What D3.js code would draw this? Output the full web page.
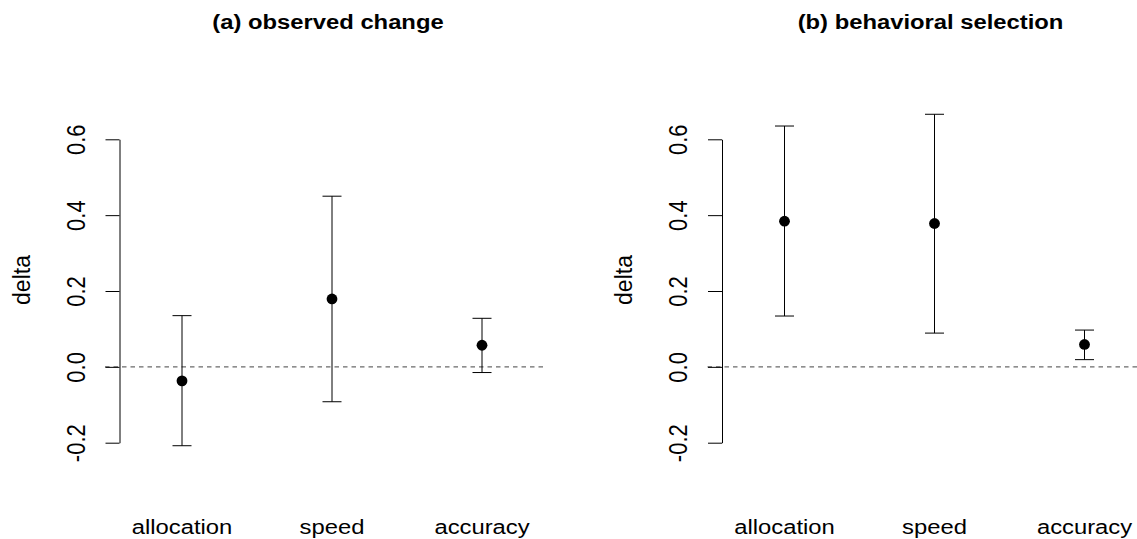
<!DOCTYPE html>
<html lang="en">
<head>
    <meta charset="UTF-8">
    <title>Observed change and behavioral selection</title>
    <script src="https://d3js.org/d3.v7.min.js"></script>
    <style>
        body { margin: 0; background: #fff; }
        svg { display: block; font-family: "Liberation Sans", Arial, Helvetica, sans-serif; }
        .axis path, .axis line { stroke: #000; stroke-width: 1; }
        .axis text { font-size: 22px; fill: #000; }
    </style>
</head>
<body>
<div id="chart"></div>
<script>
    // Data
    const categories = ["allocation", "speed", "accuracy"];
    const panelTitles = ["(a) observed change", "(b) behavioral selection"];

    const observedMean  = [-0.037, 0.179, 0.057];
    const observedLower = [-0.208, -0.092, -0.015];
    const observedUpper = [0.135, 0.450, 0.128];

    const selectionMean  = [0.384, 0.378, 0.059];
    const selectionLower = [0.134, 0.089, 0.019];
    const selectionUpper = [0.635, 0.666, 0.097];

    const yTicks = [-0.2, 0.0, 0.2, 0.4, 0.6];
    const yLabel = "delta";

    // Layout
    const W = 1137, H = 539;
    const panelShift = 602.5;
    const axisX = 119.5;          // y axis position, panel a
    const plotLeft = 105, plotRight = 543;
    const capHalf = 9.5;
    const textStretch = 1.19;      // reference text is drawn wider than it is tall

    const svg = d3.select("#chart").append("svg")
        .attr("width", W)
        .attr("height", H);

    const y = d3.scaleLinear().domain([-0.2, 0.6]).range([442.7, 139.3]);

    const panels = [
        { title: panelTitles[0], mean: observedMean, lower: observedLower, upper: observedUpper },
        { title: panelTitles[1], mean: selectionMean, lower: selectionLower, upper: selectionUpper }
    ];

    panels.forEach((p, i) => {
        const off = i * panelShift;
        const g = svg.append("g").attr("transform", `translate(${off},0)`);

        const x = d3.scalePoint().domain(categories).range([182, 482]);

        const rows = categories.map((c, k) => ({ cat: c, m: p.mean[k], lo: p.lower[k], hi: p.upper[k] }));

        // reference line at zero
        g.append("line")
            .attr("x1", plotLeft).attr("x2", plotRight)
            .attr("y1", y(0)).attr("y2", y(0))
            .attr("stroke", "#6a6a6a")
            .attr("stroke-width", 1.3)
            .attr("stroke-dasharray", "4.5,4");

        // y axis
        const ax = g.append("g")
            .attr("class", "axis")
            .attr("transform", `translate(${axisX},0)`)
            .call(d3.axisLeft(y)
                .tickValues(yTicks)
                .tickSize(14)
                .tickSizeOuter(0)
                .tickFormat(d => d.toFixed(1)));
        ax.selectAll(".tick text")
            .attr("x", 0)
            .attr("dy", 0)
            .attr("text-anchor", "middle")
            .attr("transform", "translate(-35,0) scale(1.15,1) rotate(-90)");

        // y label
        g.append("text")
            .attr("transform", `translate(${axisX - 90},280) rotate(-90)`)
            .attr("text-anchor", "middle")
            .style("font-size", "23px")
            .text(yLabel);

        // error bars
        const bars = g.selectAll(".bar").data(rows).enter().append("g").attr("class", "bar");
        bars.append("line")
            .attr("x1", d => x(d.cat)).attr("x2", d => x(d.cat))
            .attr("y1", d => y(d.lo)).attr("y2", d => y(d.hi))
            .attr("stroke", "#000");
        bars.append("line")
            .attr("x1", d => x(d.cat) - capHalf).attr("x2", d => x(d.cat) + capHalf)
            .attr("y1", d => y(d.hi)).attr("y2", d => y(d.hi))
            .attr("stroke", "#000");
        bars.append("line")
            .attr("x1", d => x(d.cat) - capHalf).attr("x2", d => x(d.cat) + capHalf)
            .attr("y1", d => y(d.lo)).attr("y2", d => y(d.lo))
            .attr("stroke", "#000");
        bars.append("circle")
            .attr("cx", d => x(d.cat))
            .attr("cy", d => y(d.m))
            .attr("r", 5.4)
            .attr("fill", "#000");

        // category labels
        g.selectAll(".xlab").data(categories).enter().append("text")
            .attr("class", "xlab")
            .attr("transform", d => `translate(${x(d)},533.5) scale(${textStretch},1)`)
            .attr("text-anchor", "middle")
            .style("font-size", "20px")
            .text(d => d);

        // title
        g.append("text")
            .attr("transform", `translate(328,28.5) scale(${textStretch},1)`)
            .attr("text-anchor", "middle")
            .style("font-size", "20px")
            .style("font-weight", "bold")
            .text(p.title);
    });
</script>
</body>
</html>
